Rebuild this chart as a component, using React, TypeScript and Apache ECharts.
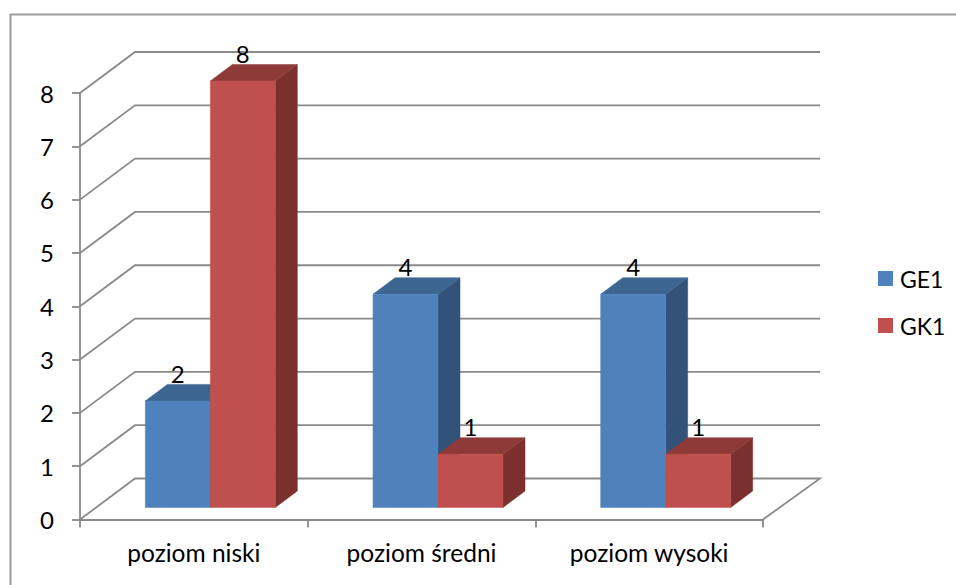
import React, { useEffect, useRef } from "react";
import * as echarts from "echarts";

const categories = ["poziom niski", "poziom średni", "poziom wysoki"];
const ge1Values = [2, 4, 4];
const gk1Values = [8, 1, 1];
const yTicks = [0, 1, 2, 3, 4, 5, 6, 7, 8];

const FONT = "Lato";
const FONT_SIZE = 24;
const GRID_COLOR = "#8a8a8a";
const WALL_DX = 55;
const WALL_DY = -41;
const WALL_RIGHT_DX = 57;
const BAR_DX = 22;
const BAR_DY = -16.5;
const BAR_SHIFT_X = 16.5;
const BAR_SHIFT_Y = -12;
const BAR_RATIO = 0.2855;

function wallLine(params: any, api: any) {
  const v = api.value(1);
  const p = api.coord([0, v]);
  const sys = params.coordSys;
  const x0 = sys.x;
  const x1 = sys.x + sys.width;
  const y = p[1];
  const points: number[][] = [
    [x0, y],
    [x0 + WALL_DX, y + WALL_DY],
    [x1 + WALL_RIGHT_DX, y + WALL_DY],
  ];
  if (v === 0) points.push([x1, y]);
  return {
    type: "polyline",
    shape: { points },
    style: { stroke: GRID_COLOR, lineWidth: 1.8, fill: "none" },
  };
}

function barRenderer(side: number, front: string, top: string, right: string) {
  return (_params: any, api: any) => {
    const idx = api.value(0);
    const val = api.value(1);
    const t = api.coord([idx, val]);
    const b = api.coord([idx, 0]);
    const w = api.size([1, 0])[0] * BAR_RATIO;
    const xl = t[0] + BAR_SHIFT_X + (side < 0 ? -w : 0);
    const xr = xl + w;
    const yt = t[1] + BAR_SHIFT_Y;
    const yb = b[1] + BAR_SHIFT_Y;
    const poly = (points: number[][], fill: string) => ({
      type: "polygon",
      shape: { points },
      style: { fill, stroke: fill, lineWidth: 0.5 },
    });
    return {
      type: "group",
      children: [
        poly(
          [
            [xr, yt],
            [xr + BAR_DX, yt + BAR_DY],
            [xr + BAR_DX, yb + BAR_DY],
            [xr, yb],
          ],
          right
        ),
        poly(
          [
            [xl, yt],
            [xl + BAR_DX, yt + BAR_DY],
            [xr + BAR_DX, yt + BAR_DY],
            [xr, yt],
          ],
          top
        ),
        poly(
          [
            [xl, yt],
            [xr, yt],
            [xr, yb],
            [xl, yb],
          ],
          front
        ),
        {
          type: "text",
          z2: 10,
          style: {
            x: (xl + xr) / 2,
            y: yt + BAR_DY - 11,
            text: String(val),
            fill: "#000",
            font: `${FONT_SIZE}px ${FONT}`,
            align: "center",
            verticalAlign: "middle",
          },
        },
      ],
    };
  };
}

export default function App() {
  const ref = useRef<HTMLDivElement>(null);
  useEffect(() => {
    const chart = echarts.init(ref.current!, undefined, { renderer: "svg" });
    const axisStyle = { color: GRID_COLOR, width: 1.8 };
    chart.setOption({
      animation: false,
      backgroundColor: "#fff",
      grid: { left: 80, top: 93, width: 683, height: 426.5 },
      graphic: [
        {
          type: "polyline",
          shape: {
            points: [
              [10.5, 585],
              [10.5, 14.5],
              [956, 14.5],
            ],
          },
          style: { stroke: "#9c9c9c", lineWidth: 2, fill: "none" },
        },
      ],
      legend: {
        orient: "vertical",
        left: 878,
        top: 267,
        padding: 0,
        itemWidth: 15,
        itemHeight: 15,
        itemGap: 24,
        icon: "rect",
        data: ["GE1", "GK1"],
        textStyle: { fontFamily: FONT, fontSize: 23, color: "#000", padding: [0, 0, 0, 2] },
      },
      xAxis: {
        type: "category",
        data: categories,
        axisLine: { lineStyle: axisStyle },
        axisTick: { show: true, length: 8, lineStyle: axisStyle },
        axisLabel: { fontFamily: FONT, fontSize: 24.5, color: "#000", margin: 20 },
        splitLine: { show: false },
      },
      yAxis: {
        type: "value",
        min: 0,
        max: 8,
        interval: 1,
        axisLine: { show: true, lineStyle: axisStyle },
        axisTick: { show: true, length: 8, lineStyle: axisStyle },
        axisLabel: { fontFamily: FONT, fontSize: FONT_SIZE, color: "#000", margin: 26 },
        splitLine: { show: false },
      },
      series: [
        {
          type: "custom",
          silent: true,
          renderItem: wallLine,
          encode: { x: 0, y: 1 },
          data: yTicks.map((v) => [0, v]),
        },
        {
          type: "custom",
          name: "GE1",
          itemStyle: { color: "#4F81BD" },
          renderItem: barRenderer(-1, "#4F81BD", "#3D6591", "#32527A"),
          encode: { x: 0, y: 1 },
          data: ge1Values.map((v, i) => [i, v]),
        },
        {
          type: "custom",
          name: "GK1",
          itemStyle: { color: "#C0504D" },
          renderItem: barRenderer(1, "#C0504D", "#8E3A38", "#7B302E"),
          encode: { x: 0, y: 1 },
          data: gk1Values.map((v, i) => [i, v]),
        },
      ],
    });
    return () => chart.dispose();
  }, []);
  return <div ref={ref} style={{ position: "absolute", left: 0, top: 0, width: 956, height: 585 }} />;
}
